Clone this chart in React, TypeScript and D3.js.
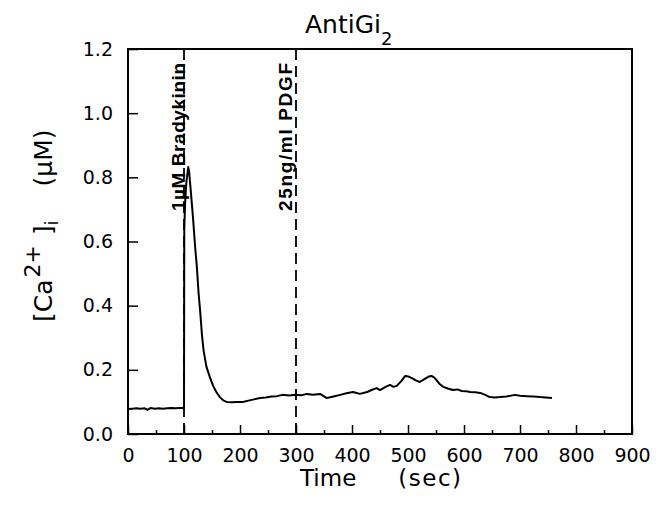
import { useEffect, useRef } from 'react';
import * as d3 from 'd3';

// trace: time (s) and [Ca2+]i (µM)
const traceTime = [
  0, 8, 15, 22, 30, 35, 40, 48, 55, 62, 70, 78, 85, 92, 99.5,
  100, 100.5, 102, 104, 106, 107.5, 109, 112, 116, 120, 123, 126, 129, 132, 135,
  140, 146, 152, 158, 164, 170, 176, 185, 195, 205, 215, 225, 236, 246, 256,
  266, 276, 288, 298, 310, 319, 330, 343, 355, 367, 379, 390, 402, 414, 427,
  436, 444, 450, 460, 468, 474, 480, 488, 495, 501, 507, 514, 521, 530, 537,
  542, 547, 551, 557, 563, 571, 580, 588, 596, 604, 611, 620, 629, 638, 646,
  655, 664, 676, 691, 700, 712, 724, 736, 746, 757,
];
const traceCa = [
  0.078, 0.079, 0.08, 0.079, 0.08, 0.075, 0.081, 0.079, 0.08, 0.079, 0.08, 0.081, 0.08, 0.081, 0.081,
  0.081, 0.64, 0.72, 0.78, 0.81, 0.832, 0.82, 0.76, 0.676, 0.58, 0.52, 0.44, 0.38, 0.31, 0.26,
  0.21, 0.178, 0.15, 0.13, 0.115, 0.105, 0.1, 0.099, 0.1, 0.1, 0.104, 0.108, 0.112, 0.114, 0.117,
  0.118, 0.122, 0.12, 0.122, 0.121, 0.125, 0.122, 0.125, 0.112, 0.117, 0.122, 0.127, 0.131, 0.125, 0.131,
  0.138, 0.143, 0.137, 0.147, 0.153, 0.147, 0.15, 0.165, 0.181, 0.179, 0.174, 0.167, 0.162, 0.172, 0.179,
  0.181, 0.176, 0.168, 0.155, 0.147, 0.142, 0.137, 0.139, 0.134, 0.133, 0.131, 0.13, 0.128, 0.122, 0.115,
  0.114, 0.115, 0.117, 0.122, 0.119, 0.118, 0.117, 0.115, 0.114, 0.112,
];

const xTicks = [0, 100, 200, 300, 400, 500, 600, 700, 800, 900];
const xMinorTicks = [50, 150, 250, 350, 450, 550, 650, 750, 850];
const yTicks = [0, 0.2, 0.4, 0.6, 0.8, 1.0, 1.2];

const markerTimes = [100, 300];
const markerLabels = ['1µM Bradykinin', '25ng/ml PDGF'];

function CalciumTrace() {
  const svgRef = useRef<SVGSVGElement | null>(null);
  const width = 666;
  const height = 505;
  const margin = { top: 49, right: 34, bottom: 71, left: 128 };

  useEffect(() => {
    const svg = d3.select(svgRef.current);
    svg.selectAll('*').remove();
    const font = "'DejaVu Sans', sans-serif";

    const x = d3.scaleLinear().domain([0, 900]).range([margin.left, width - margin.right]);
    const y = d3.scaleLinear().domain([0, 1.2]).range([height - margin.bottom, margin.top]);

    // minor x ticks
    svg
      .append('g')
      .attr('transform', `translate(0,${y(0)})`)
      .call(d3.axisBottom(x).tickValues(xMinorTicks).tickSizeInner(-4).tickSizeOuter(0).tickFormat(() => ''))
      .call((g) => g.select('.domain').remove())
      .call((g) => g.selectAll('line').attr('stroke-width', 1.5));

    svg
      .append('g')
      .attr('transform', `translate(0,${y(0)})`)
      .call(
        d3.axisBottom(x).tickValues(xTicks).tickSizeInner(-9).tickSizeOuter(0).tickPadding(15).tickFormat(d3.format('d'))
      )
      .call((g) => g.select('.domain').remove())
      .call((g) => g.selectAll('line').attr('stroke-width', 1.5))
      .attr('font-family', font)
      .attr('font-size', 19);

    svg
      .append('g')
      .attr('transform', `translate(${x(0)},0)`)
      .call(
        d3.axisLeft(y).tickValues(yTicks).tickSizeInner(-10).tickSizeOuter(0).tickPadding(15).tickFormat(d3.format('.1f'))
      )
      .call((g) => g.select('.domain').remove())
      .call((g) => g.selectAll('line').attr('stroke-width', 1.5))
      .attr('font-family', font)
      .attr('font-size', 19);

    // frame
    svg
      .append('rect')
      .attr('x', x(0))
      .attr('y', y(1.2))
      .attr('width', x(900) - x(0))
      .attr('height', y(0) - y(1.2))
      .attr('fill', 'none')
      .attr('stroke', 'black')
      .attr('stroke-width', 2);

    // stimulus markers
    const labelOffset = [1, -4];
    markerTimes.forEach((t, i) => {
      svg
        .append('line')
        .attr('x1', x(t))
        .attr('x2', x(t))
        .attr('y1', y(1.2))
        .attr('y2', y(0))
        .attr('stroke', 'black')
        .attr('stroke-width', 1.8)
        .attr('stroke-dasharray', '11,6');
      svg
        .append('text')
        .attr('transform', `translate(${x(t) + labelOffset[i]},211) rotate(-90)`)
        .attr('font-family', "'Liberation Sans', Arial, sans-serif")
        .attr('font-weight', 'bold')
        .attr('font-size', 19)
        .attr('textLength', 148)
        .attr('lengthAdjust', 'spacing')
        .text(markerLabels[i]);
    });

    const data = traceTime.map((t, i) => [t, traceCa[i]] as [number, number]);
    const line = d3
      .line<[number, number]>()
      .x((d) => x(d[0]))
      .y((d) => y(d[1]));

    svg
      .append('path')
      .attr('fill', 'none')
      .attr('stroke', 'black')
      .attr('stroke-width', 2)
      .attr('stroke-linejoin', 'round')
      .attr('d', line(data));

    // title
    const title = svg.append('text').attr('x', 305).attr('y', 33).attr('font-family', font).attr('font-size', 25);
    title.append('tspan').text('AntiGi');
    title.append('tspan').attr('font-size', 18).attr('dy', 12).text('2');

    // x label
    const xl = svg
      .append('text')
      .attr('x', 300)
      .attr('y', 486)
      .attr('font-family', font)
      .attr('font-size', 23);
    xl.append('tspan').text('Time');
    xl.append('tspan').attr('dx', 42).attr('letter-spacing', 1.5).text('(sec)');

    // y label
    const yl = svg
      .append('text')
      .attr('transform', 'translate(52,322) rotate(-90)')
      .attr('font-family', font)
      .attr('font-size', 25);
    yl.append('tspan').text('[Ca');
    yl.append('tspan').attr('font-size', 22).attr('dy', -12).attr('dx', 2).text('2+');
    yl.append('tspan').attr('dy', 12).attr('dx', 10).text(']');
    yl.append('tspan').attr('font-size', 17).attr('dy', 6).text('i');
    yl.append('tspan').attr('dy', -6).attr('dx', 34).text('(µM)');
  }, []);

  return (
    <svg
      ref={svgRef}
      width={width}
      height={height}
      style={{ position: 'absolute', left: 0, top: 0, background: '#fff' }}
    />
  );
}

export default function App() {
  return <CalciumTrace />;
}
